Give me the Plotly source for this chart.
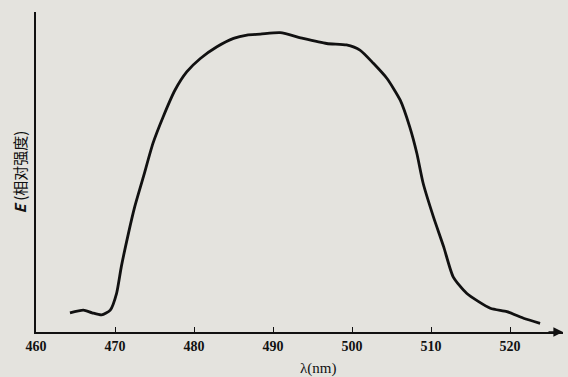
import plotly.graph_objects as go

wavelength_nm = [464.3, 466.0, 467.1, 468.3, 469.4, 470.2, 470.8, 471.7, 472.5, 473.6,
                 474.8, 476.1, 477.6, 479.1, 480.8, 482.9, 485.0, 486.7, 488.4, 490.9,
                 493.8, 496.8, 499.3, 501.0, 502.7, 504.4, 506.1, 507.3, 508.2, 509.0,
                 510.3, 511.6, 512.8, 514.5, 517.5, 519.6, 521.7, 523.8]
intensity = [6.4, 7.3, 6.4, 5.7, 7.3, 12.9, 21.8, 32.9, 41.8, 51.8,
             62.9, 71.8, 80.7, 86.8, 91.2, 95.1, 97.9, 99.0, 99.3, 99.8,
             97.9, 96.2, 95.7, 94.0, 89.6, 84.6, 77.3, 68.4, 59.6, 49.6,
             38.4, 28.4, 18.4, 12.9, 7.9, 6.8, 4.6, 2.9]
tick_vals = [460, 470, 480, 490, 500, 510, 520]
tick_text = [str(v) for v in tick_vals]

bg = "#e4e3de"
ink = "#111111"
fig = go.Figure()
fig.add_trace(go.Scatter(
    x=wavelength_nm, y=intensity, mode="lines",
    line=dict(color=ink, width=2.8, shape="spline", smoothing=0.6),
    showlegend=False, hoverinfo="skip"))

fig.update_layout(
    width=568, height=377,
    margin=dict(l=36, r=5, t=12, b=45),
    paper_bgcolor=bg, plot_bgcolor=bg,
    font=dict(family="Liberation Serif", color=ink),
    xaxis=dict(range=[460, 526.7], tickvals=tick_vals, ticktext=tick_text,
               automargin=False,
               showgrid=False, zeroline=False, showline=True,
               linecolor=ink, linewidth=1.6,
               ticks="inside", ticklen=5, tickcolor=ink, tickwidth=1.2,
               tickfont=dict(size=14, family="Liberation Serif", weight="bold")),
    yaxis=dict(range=[0, 106.7], showticklabels=False, showgrid=False, zeroline=False,
               automargin=False,
               showline=True, linecolor=ink, linewidth=2, ticks="",
               title=dict(text="<b><i>E</i></b> (相对强度)",
                          font=dict(size=15, family="Noto Sans CJK SC"), standoff=4)),
)
fig.add_annotation(xref="paper", yref="paper", x=1.0, y=0, ax=-16, ay=0,
                   showarrow=True, arrowhead=2, arrowsize=1.2, arrowwidth=1.6,
                   arrowcolor=ink, text="")
fig.add_annotation(xref="paper", yref="paper", x=(318 - 36) / 527, y=-(368 - 332) / 320,
                   xanchor="center", yanchor="middle", showarrow=False,
                   text="λ(nm)", font=dict(size=15, family="Liberation Serif", color=ink))
fig.write_html("out.html", config={"displayModeBar": False},
               post_script="document.body.style.margin='0';document.body.style.overflow='hidden';"
                           "document.body.style.background='" + bg + "';")
